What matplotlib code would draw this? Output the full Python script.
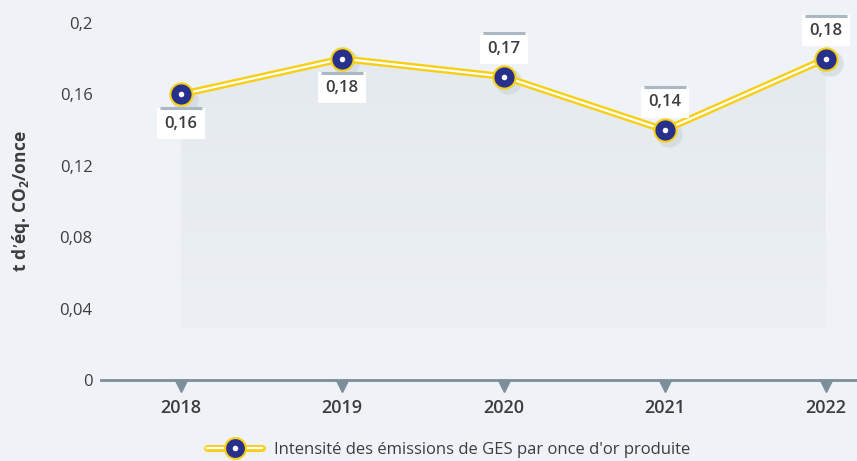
import matplotlib.pyplot as plt
import matplotlib.transforms as mtransforms
from matplotlib.lines import Line2D
from matplotlib.colors import LinearSegmentedColormap
import numpy as np

plt.rcParams['font.family'] = ['Open Sans', 'DejaVu Sans']

# données
years = [2018, 2019, 2020, 2021, 2022]
values = [0.16, 0.18, 0.17, 0.14, 0.18]
labels = ['0,16', '0,18', '0,17', '0,14', '0,18']
label_pos = ['below', 'below', 'above', 'above', 'above']
yticks = [0, 0.04, 0.08, 0.12, 0.16, 0.2]
ytick_labels = ['0', '0,04', '0,08', '0,12', '0,16', '0,2']
legend_label = "Intensité des émissions de GES par once d'or produite"

bg = '#eff3f7'
yellow = '#f7cf14'
navy = '#27318b'
axis_col = '#7b8e99'
txt = '#3d3d3d'

fig = plt.figure(figsize=(8.57, 4.61), dpi=100, facecolor=bg)
ax = fig.add_axes([101 / 857, 1 - 380 / 461, 1 - 101 / 857, 357 / 461])
ax.set_facecolor(bg)

for s in ['top', 'right', 'left']:
    ax.spines[s].set_visible(False)
ax.spines['bottom'].set_color(axis_col)
ax.spines['bottom'].set_linewidth(2)

ax.set_yticks(yticks)
ax.set_yticklabels(ytick_labels)
ax.tick_params(axis='y', length=0, pad=6, labelsize=12, labelcolor=txt)
ax.set_xticks(years)
ax.set_xticklabels([str(y) for y in years], fontweight='semibold')
ax.tick_params(axis='x', length=0, pad=14, labelsize=13, labelcolor=txt)

ax.set_ylabel('t d’éq. CO$_\\mathregular{2}$/once', fontsize=12.5, fontweight='bold',
              color=txt, labelpad=20)

# zone ombrée sous la courbe (dégradé léger)
poly = ax.fill_between(years, values, 0.029, color='none', lw=0)
cmap = LinearSegmentedColormap.from_list('fond', ['#ecf0f4', '#e5eaee'])
grad = np.linspace(0, 1, 100).reshape(-1, 1)
img = ax.imshow(grad, cmap=cmap, aspect='auto', origin='lower',
                extent=[years[0], years[-1], 0.029, max(values)], zorder=1)
img.set_clip_path(poly.get_paths()[0], transform=ax.transData)
ax.set_xlim(2018 - 80 / 161.25, 2022 + 31 / 161.25)
ax.set_ylim(0, 0.2)

# petits triangles sous l'axe
tri = mtransforms.offset_copy(ax.transData, fig=fig, y=-4, units='points')
ax.plot(years, [0] * len(years), ls='none', marker='v', ms=9, color=axis_col,
        transform=tri, clip_on=False, zorder=5)

# ombre des points
shadow = mtransforms.offset_copy(ax.transData, fig=fig, x=3, y=-3, units='points')
ax.plot(years, values, ls='none', marker='o', ms=19, color='#c9d2d9', alpha=0.55,
        mec='none', transform=shadow, zorder=2)

# ligne double jaune/blanc
ax.plot(years, values, color=yellow, lw=5, zorder=3, solid_capstyle='round')
ax.plot(years, values, color='white', lw=1.6, zorder=4)
ax.plot(years, values, ls='none', marker='o', ms=16, mfc=navy, mec=yellow, mew=1.5,
        zorder=6, clip_on=False)
ax.plot(years, values, ls='none', marker='o', ms=4, mfc='white', mec='none', zorder=7,
        clip_on=False)

# étiquettes
for x, v, lab, pos in zip(years, values, labels, label_pos):
    off = -21 if pos == 'below' else 20
    ax.annotate(lab, (x, v), xytext=(0, off), textcoords='offset points',
                ha='center', va='center', fontsize=12, fontweight='semibold', color=txt,
                bbox=dict(boxstyle='square,pad=0.45', fc='white', ec='none'),
                zorder=8, annotation_clip=False)
    bar = mtransforms.offset_copy(ax.transData, fig=fig, y=off + 11, units='points')
    ax.plot([x], [v], marker='_', ms=30, mew=2.2, color='#a9b8c3', transform=bar,
            clip_on=False, zorder=9)

# légende
h1 = Line2D([], [], color=yellow, lw=5, solid_capstyle='round')
h2 = Line2D([], [], color='white', lw=1.6)
h3 = Line2D([], [], ls='none', marker='o', ms=15, mfc=navy, mec=yellow, mew=1.5)
h4 = Line2D([], [], ls='none', marker='o', ms=4, mfc='white', mec='none')
fig.legend([(h1, h2, h3, h4)], [legend_label], loc='center left',
           bbox_to_anchor=(192 / 857, 1 - 450 / 461), frameon=False, fontsize=12,
           handlelength=3.3, handletextpad=0.7, labelcolor=txt)

fig.savefig('out.png', dpi=100, facecolor=bg)
